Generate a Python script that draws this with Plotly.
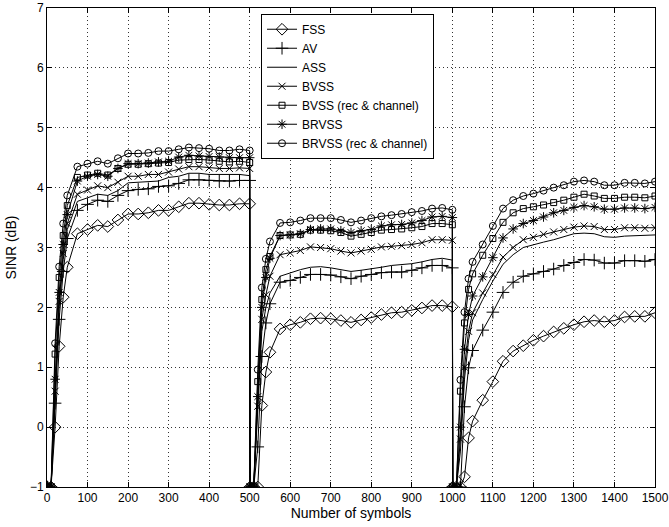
import plotly.graph_objects as go

# x positions (symbols) for each of the three segments
x_seg1 = [1, 10, 20, 30, 40, 50, 75, 100, 125, 150, 175, 200, 225, 250, 275, 300, 325, 350, 375, 400, 425, 450, 475, 500]
x_seg2 = [501, 510, 520, 530, 540, 550, 575, 600, 625, 650, 675, 700, 725, 750, 775, 800, 825, 850, 875, 900, 925, 950, 975, 1000]
x_seg3 = [1001, 1010, 1020, 1030, 1040, 1050, 1075, 1100, 1125, 1150, 1175, 1200, 1225, 1250, 1275, 1300, 1325, 1350, 1375, 1400, 1425, 1450, 1475, 1500]

fss = ([-1, -1, 0.0, 1.35, 2.17, 2.67, 3.23, 3.30, 3.37, 3.35, 3.46, 3.56, 3.56, 3.58, 3.62, 3.62, 3.68, 3.74, 3.74, 3.72, 3.71, 3.71, 3.73, 3.73]
       + [-1, -1, -1, 0.36, 0.92, 1.25, 1.64, 1.71, 1.75, 1.81, 1.82, 1.81, 1.78, 1.75, 1.79, 1.83, 1.88, 1.91, 1.92, 1.95, 1.99, 2.03, 2.03, 2.01]
       + [-1, -1, -1, -0.83, -0.18, 0.10, 0.45, 0.76, 1.10, 1.27, 1.36, 1.45, 1.52, 1.59, 1.65, 1.71, 1.76, 1.78, 1.76, 1.78, 1.84, 1.85, 1.85, 1.91])
av = ([-1, -1, 0.4, 1.8, 2.6, 3.15, 3.62, 3.72, 3.79, 3.77, 3.87, 3.95, 3.97, 3.98, 4.02, 4.03, 4.07, 4.13, 4.13, 4.12, 4.11, 4.11, 4.12, 4.12]
      + [-1, -1, -0.33, 1.18, 1.74, 2.06, 2.42, 2.45, 2.50, 2.55, 2.55, 2.54, 2.51, 2.48, 2.52, 2.55, 2.58, 2.59, 2.59, 2.62, 2.66, 2.70, 2.70, 2.66]
      + [-1, -1, -1, 0.34, 0.99, 1.28, 1.62, 1.92, 2.25, 2.42, 2.52, 2.56, 2.60, 2.64, 2.70, 2.75, 2.80, 2.79, 2.74, 2.74, 2.78, 2.78, 2.77, 2.80])
ass = ([-1, -1, 0.5, 2.0, 2.8, 3.3, 3.77, 3.83, 3.89, 3.87, 3.95, 4.08, 4.09, 4.10, 4.11, 4.17, 4.19, 4.24, 4.24, 4.22, 4.22, 4.21, 4.22, 4.20]
       + [-1, -1, 0.2, 1.6, 2.0, 2.24, 2.52, 2.58, 2.63, 2.67, 2.68, 2.66, 2.63, 2.60, 2.62, 2.64, 2.67, 2.70, 2.71, 2.73, 2.76, 2.80, 2.82, 2.79]
       + [-1, -1, -0.4, 0.8, 1.45, 1.79, 2.13, 2.44, 2.72, 2.88, 3.00, 3.05, 3.09, 3.13, 3.18, 3.23, 3.24, 3.23, 3.18, 3.17, 3.19, 3.20, 3.20, 3.21])
bvss = ([-1, -1, 0.6, 2.1, 2.9, 3.4, 3.89, 3.96, 4.03, 4.00, 4.09, 4.19, 4.19, 4.22, 4.22, 4.26, 4.31, 4.35, 4.35, 4.33, 4.32, 4.32, 4.33, 4.32]
        + [-1, -1, 0.35, 1.8, 2.21, 2.52, 2.88, 2.91, 2.95, 3.01, 3.00, 2.98, 2.94, 2.91, 2.94, 2.97, 3.01, 3.02, 3.03, 3.05, 3.08, 3.13, 3.13, 3.12]
        + [-1, -1, -0.2, 1.0, 1.6, 1.91, 2.24, 2.55, 2.84, 3.00, 3.13, 3.17, 3.22, 3.26, 3.30, 3.34, 3.36, 3.35, 3.30, 3.30, 3.33, 3.33, 3.32, 3.33])
bvss_rc = ([-1, -1, 1.22, 2.5, 3.2, 3.7, 4.17, 4.21, 4.24, 4.21, 4.32, 4.39, 4.39, 4.40, 4.41, 4.42, 4.46, 4.47, 4.47, 4.46, 4.44, 4.43, 4.44, 4.42]
           + [-1, -1, 0.76, 2.13, 2.63, 2.85, 3.20, 3.21, 3.22, 3.29, 3.29, 3.28, 3.25, 3.19, 3.22, 3.25, 3.29, 3.30, 3.31, 3.33, 3.35, 3.40, 3.40, 3.38]
           + [-1, -1, 0.6, 1.74, 2.30, 2.56, 2.87, 3.15, 3.42, 3.58, 3.65, 3.68, 3.71, 3.75, 3.79, 3.84, 3.89, 3.86, 3.82, 3.82, 3.84, 3.84, 3.83, 3.86])
brvss = ([-1, -1, 0.8, 2.25, 3.05, 3.55, 4.11, 4.19, 4.22, 4.19, 4.32, 4.40, 4.40, 4.41, 4.43, 4.44, 4.51, 4.54, 4.53, 4.52, 4.51, 4.50, 4.50, 4.50]
         + [-1, -1, 0.51, 2.0, 2.5, 2.82, 3.20, 3.21, 3.23, 3.30, 3.31, 3.31, 3.28, 3.25, 3.28, 3.30, 3.36, 3.38, 3.385, 3.41, 3.45, 3.51, 3.52, 3.50]
         + [-1, -1, 0.0, 1.3, 1.88, 2.19, 2.51, 2.83, 3.16, 3.31, 3.40, 3.45, 3.51, 3.58, 3.62, 3.67, 3.70, 3.68, 3.64, 3.64, 3.66, 3.66, 3.65, 3.67])
brvss_rc = ([-1, -1, 1.4, 2.68, 3.4, 3.87, 4.35, 4.40, 4.44, 4.40, 4.49, 4.57, 4.57, 4.58, 4.61, 4.61, 4.64, 4.67, 4.66, 4.65, 4.62, 4.62, 4.64, 4.62]
            + [-1, -1, 0.96, 2.33, 2.81, 3.10, 3.41, 3.42, 3.45, 3.49, 3.49, 3.49, 3.46, 3.42, 3.45, 3.49, 3.52, 3.54, 3.56, 3.59, 3.61, 3.65, 3.66, 3.63]
            + [-1, -1, 0.79, 1.92, 2.48, 2.76, 3.05, 3.36, 3.65, 3.79, 3.86, 3.90, 3.95, 4.00, 4.04, 4.10, 4.12, 4.10, 4.04, 4.04, 4.08, 4.08, 4.07, 4.10])

series_names = ["FSS", "AV", "ASS", "BVSS", "BVSS (rec & channel)", "BRVSS", "BRVSS (rec & channel)"]
series_values = [fss, av, ass, bvss, bvss_rc, brvss, brvss_rc]
x_all = x_seg1 + x_seg2 + x_seg3

styles = [
    dict(mode="lines+markers", symbol="diamond-open", size=9),
    dict(mode="lines+markers", symbol="cross-thin-open", size=9),
    dict(mode="lines", symbol=None, size=0),
    dict(mode="lines+markers", symbol="x-thin-open", size=7),
    dict(mode="lines+markers", symbol="square-open", size=6),
    dict(mode="lines+markers", symbol="asterisk-open", size=8),
    dict(mode="lines+markers", symbol="circle-open", size=7),
]

fig = go.Figure()
for name, vals, st in zip(series_names, series_values, styles):
    kw = dict(x=x_all, y=vals, name=name, mode=st["mode"],
              line=dict(color="black", width=1))
    if st["symbol"]:
        kw["marker"] = dict(symbol=st["symbol"], size=st["size"], color="black",
                            line=dict(color="black", width=1))
    fig.add_trace(go.Scatter(**kw))

axis_common = dict(showline=True, linecolor="black", linewidth=1, mirror="allticks",
                   ticks="inside", ticklen=5, tickcolor="black", automargin=False,
                   showgrid=True, gridcolor="#333", gridwidth=1, griddash="1px,3px",
                   zeroline=False, tickfont=dict(family="Liberation Sans, Arial", size=12, color="black"))

fig.update_layout(
    width=669, height=527,
    margin=dict(l=47, r=14, t=8, b=40),
    paper_bgcolor="white", plot_bgcolor="white",
    font=dict(family="Liberation Sans, Arial", size=12, color="black"),
    xaxis=dict(range=[0, 1500], dtick=100, tick0=0,
               title=dict(text="Number of symbols", standoff=2), **axis_common),
    yaxis=dict(range=[-1, 7], dtick=1, tick0=0,
               title=dict(text="SINR (dB)", standoff=10), **axis_common),
    legend=dict(x=0.352, y=0.988, xanchor="left", yanchor="top",
                bordercolor="black", borderwidth=1, bgcolor="white",
                font=dict(size=12), tracegroupgap=0, itemwidth=30),
    showlegend=True,
)

fig.write_html("out.html", config={"displayModeBar": False},
               post_script="document.body.style.margin='0';document.body.style.overflow='hidden';")
